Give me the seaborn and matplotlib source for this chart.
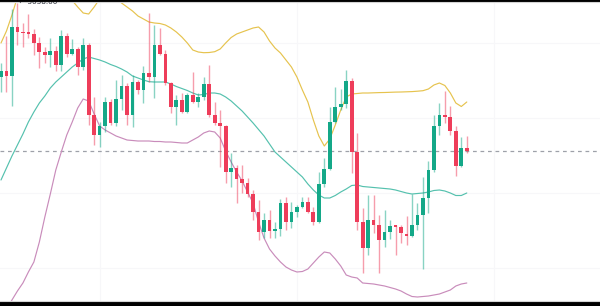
import numpy as np
import pandas as pd
import matplotlib
matplotlib.use("Agg")
import matplotlib.pyplot as plt
import seaborn as sns

# ---- data (price units) ----
opens = [3023.20, 3024.52, 3023.46, 3033.32, 3032.32, 3032.20, 3031.92, 3030.00, 3028.32, 3027.66,
         3028.52, 3025.66, 3031.52, 3027.86, 3028.80, 3025.20, 3029.72, 3015.66, 3011.66, 3013.46,
         3018.32, 3014.00, 3018.92, 3021.46, 3015.66, 3022.32, 3020.66, 3024.00, 3023.20, 3029.66,
         3027.86, 3022.00, 3017.20, 3018.66, 3016.32, 3019.66, 3018.32, 3019.32, 3021.86, 3015.66,
         3014.00, 3013.46, 3004.32, 3005.00, 3002.86, 3002.12, 2999.86, 2996.32, 2992.32, 2994.66,
         2992.52, 2992.80, 2998.00, 2994.32, 2996.32, 2997.32, 2998.32, 2996.20, 2994.32, 3001.86,
         3004.80, 3014.32, 3017.20, 3017.80, 3022.52, 3008.32, 2994.32, 2989.00, 2994.66, 2993.66,
         2990.66, 2992.20, 2993.46, 2993.26, 2991.86, 2991.46, 2993.66, 2995.66, 2999.00, 3004.66,
         3013.46, 3015.66, 3015.20, 3012.52, 3005.46, 3009.00]
highs = [3026.06, 3031.46, 3036.80, 3038.00, 3034.12, 3035.86, 3032.80, 3031.32, 3029.32, 3031.12,
         3029.46, 3032.66, 3032.00, 3030.80, 3029.32, 3031.00, 3030.12, 3019.32, 3014.32, 3019.20,
         3018.80, 3022.66, 3023.66, 3022.12, 3023.66, 3022.66, 3025.46, 3036.00, 3033.66, 3033.00,
         3028.66, 3022.32, 3019.66, 3020.00, 3020.00, 3024.32, 3020.00, 3023.32, 3025.66, 3018.32,
         3016.66, 3013.66, 3008.00, 3005.66, 3005.66, 3003.06, 3000.66, 2998.66, 2996.00, 2996.66,
         2994.32, 2998.80, 2999.32, 2998.32, 2997.66, 2999.32, 2999.32, 2997.32, 3004.32, 3007.00,
         3017.32, 3021.20, 3020.80, 3024.66, 3023.00, 3012.00, 2997.06, 2999.66, 2999.66, 2995.66,
         2996.66, 2994.66, 2993.66, 2993.66, 2995.46, 2999.86, 2998.00, 3003.32, 3006.52, 3015.66,
         3018.12, 3020.52, 3017.46, 3013.46, 3011.32, 3011.46]
lows = [3020.26, 3020.26, 3017.46, 3029.66, 3029.32, 3031.00, 3027.66, 3025.00, 3026.00, 3025.32,
        3024.52, 3024.46, 3027.32, 3027.66, 3023.66, 3024.66, 3013.66, 3009.66, 3009.32, 3012.32,
        3013.66, 3013.46, 3016.66, 3013.66, 3013.32, 3019.86, 3018.00, 3022.32, 3019.00, 3027.66,
        3021.66, 3016.00, 3013.66, 3016.00, 3016.00, 3018.00, 3017.32, 3018.66, 3015.32, 3013.66,
        3005.32, 3002.00, 3001.32, 2998.00, 3000.00, 2999.32, 2994.66, 2990.66, 2991.00, 2991.00,
        2991.00, 2991.46, 2992.66, 2993.00, 2995.32, 2997.00, 2996.00, 2993.66, 2994.00, 3001.32,
        3004.66, 3014.00, 3016.66, 3017.00, 3004.00, 2992.66, 2984.00, 2987.66, 2992.00, 2984.00,
        2989.32, 2990.80, 2987.66, 2990.00, 2989.66, 2991.32, 2992.66, 2984.80, 2996.00, 3004.26,
        3011.66, 3014.00, 3011.66, 3003.46, 3005.32, 3008.12]
closes = [3024.52, 3023.46, 3033.32, 3032.32, 3032.00, 3031.92, 3030.00, 3028.32, 3027.66, 3028.52,
          3025.66, 3031.52, 3027.86, 3028.80, 3025.20, 3029.72, 3015.66, 3011.66, 3013.46, 3018.32,
          3014.00, 3018.92, 3021.46, 3015.66, 3022.32, 3020.66, 3024.00, 3023.20, 3029.66, 3027.86,
          3022.00, 3017.20, 3018.66, 3016.32, 3019.66, 3018.32, 3019.32, 3021.86, 3015.66, 3014.00,
          3013.46, 3004.32, 3005.00, 3002.86, 3002.12, 2999.86, 2996.32, 2992.32, 2994.66, 2992.52,
          2992.80, 2998.00, 2994.32, 2996.32, 2997.32, 2998.32, 2996.20, 2994.32, 3001.86, 3004.80,
          3014.32, 3017.32, 3017.80, 3022.52, 3008.32, 2994.32, 2989.00, 2994.66, 2993.66, 2990.66,
          2992.20, 2993.46, 2993.26, 2992.00, 2991.46, 2993.66, 2995.66, 2999.00, 3004.66, 3013.46,
          3015.66, 3015.20, 3012.52, 3005.46, 3009.00, 3008.52]
bb_upper = [3030.06, 3032.46, 3035.66, 3039.26, 3040.26, 3041.06, 3041.46, 3041.66, 3041.46, 3041.06,
            3040.66, 3040.06, 3039.46, 3038.56, 3037.26, 3036.06, 3035.86, 3037.26, 3038.86, 3039.66,
            3039.86, 3039.26, 3038.06, 3037.26, 3036.46, 3035.46, 3034.86, 3034.26, 3034.06, 3033.96,
            3033.66, 3033.06, 3032.26, 3031.26, 3030.06, 3028.66, 3028.26, 3028.12, 3028.16, 3028.32,
            3028.86, 3030.06, 3031.16, 3031.86, 3032.26, 3032.66, 3033.06, 3033.26, 3032.26, 3030.46,
            3029.06, 3028.06, 3026.66, 3025.26, 3023.26, 3020.66, 3018.26, 3014.66, 3011.46, 3009.46,
            3010.86, 3013.66, 3016.66, 3019.26, 3019.86, 3019.96, 3020.06, 3020.06, 3020.10, 3020.14,
            3020.16, 3020.20, 3020.24, 3020.26, 3020.30, 3020.34, 3020.42, 3020.52, 3020.86, 3021.66,
            3022.06, 3021.56, 3020.06, 3018.06, 3017.36, 3018.26]
bb_middle = [3002.66, 3005.06, 3007.46, 3009.66, 3011.86, 3014.26, 3016.26, 3018.06, 3019.46, 3021.06,
             3022.26, 3023.26, 3024.26, 3025.26, 3026.06, 3026.86, 3027.26, 3026.96, 3026.66, 3026.26,
             3025.76, 3025.36, 3024.86, 3024.26, 3023.46, 3023.06, 3022.66, 3022.32, 3022.26, 3022.26,
             3022.26, 3021.86, 3021.36, 3020.96, 3020.56, 3020.06, 3019.66, 3019.76, 3020.06, 3020.06,
             3019.86, 3019.26, 3018.46, 3017.46, 3016.46, 3015.26, 3014.06, 3012.76, 3011.46, 3009.86,
             3008.26, 3007.26, 3006.26, 3005.26, 3004.26, 3003.26, 3001.86, 3000.66, 2999.66, 2999.06,
             2999.06, 2999.56, 3000.26, 3000.86, 3001.56, 3001.66, 3001.36, 3001.26, 3001.16, 3001.06,
             3000.96, 3000.86, 3000.66, 3000.36, 3000.06, 2999.86, 2999.96, 3000.06, 3000.26, 3000.56,
             3000.66, 3000.46, 3000.06, 2999.56, 2999.56, 3000.06]
bb_lower = [2974.26, 2976.66, 2978.66, 2980.46, 2982.06, 2984.26, 2986.26, 2990.26, 2995.26, 2999.86,
            3004.66, 3008.26, 3011.66, 3014.26, 3017.06, 3018.86, 3018.46, 3015.86, 3013.46, 3012.66,
            3012.06, 3011.46, 3011.06, 3010.66, 3010.56, 3010.46, 3010.46, 3010.46, 3010.36, 3010.36,
            3010.26, 3010.26, 3010.16, 3010.06, 3010.06, 3010.66, 3011.26, 3012.06, 3012.46, 3012.26,
            3011.06, 3008.46, 3006.26, 3004.26, 3002.46, 3000.26, 2998.06, 2994.26, 2991.06, 2988.86,
            2987.46, 2986.26, 2985.26, 2984.66, 2984.26, 2984.36, 2984.86, 2986.06, 2987.26, 2988.26,
            2988.06, 2986.86, 2985.46, 2983.66, 2983.26, 2983.06, 2982.06, 2981.96, 2981.86, 2981.66,
            2981.46, 2981.16, 2980.86, 2980.46, 2979.86, 2979.36, 2979.26, 2979.36, 2979.46, 2979.66,
            2979.86, 2980.26, 2980.66, 2981.46, 2981.86, 2982.06]
high_label = "\u2190 3038.00"
price_grid = [2985, 3000, 3015, 3030]
time_grid = [18, 54, 90]

# ---- styling ----
sns.set_theme(style="white")
plt.rcParams['font.family'] = ['DejaVu Sans']

GREEN = '#14a888'
RED = '#ee3d5a'

o = np.array(opens); h = np.array(highs); l = np.array(lows); c = np.array(closes)
idx = np.arange(len(c))
up = c >= o

df = pd.DataFrame({'i': idx, 'upper': bb_upper, 'middle': bb_middle, 'lower': bb_lower})

fig = plt.figure(figsize=(6.0, 3.06), dpi=100, facecolor='black')
ax = fig.add_axes([0, 5 / 306, 1, 299 / 306])
ax.set_facecolor('white')

# very faint grid
for g in price_grid:
    ax.axhline(g, color='#f7f7f9', lw=0.8, zorder=0)
for g in time_grid:
    ax.axvline(g, color='#f7f7f9', lw=0.8, zorder=0)

# bands
sns.lineplot(data=df, x='i', y='upper', color='#e6c34e', lw=0.85, ax=ax, estimator=None, legend=False, zorder=2)
sns.lineplot(data=df, x='i', y='middle', color='#55c1ae', lw=0.85, ax=ax, estimator=None, legend=False, zorder=2)
sns.lineplot(data=df, x='i', y='lower', color='#c98cbb', lw=0.85, ax=ax, estimator=None, legend=False, zorder=2)

# wicks
ax.vlines(idx[up], l[up], h[up], color=GREEN, alpha=0.5, lw=1.0, zorder=3)
ax.vlines(idx[~up], l[~up], h[~up], color=RED, alpha=0.5, lw=1.0, zorder=3)

# bodies
body_bottom = np.minimum(o, c)
body_height = np.maximum(np.abs(c - o), 0.3)
ax.bar(idx[up], body_height[up], bottom=body_bottom[up], width=0.68, color=GREEN, linewidth=0, zorder=4)
ax.bar(idx[~up], body_height[~up], bottom=body_bottom[~up], width=0.68, color=RED, linewidth=0, zorder=4)

# last price line
ax.axhline(closes[-1], color='#9ea1a9', lw=0.9, ls=(0, (3, 3)), zorder=1)

# high marker label (partially hidden under the top edge)
ax.text(19 / 600, 1.0, high_label, transform=ax.transAxes, fontsize=5.2,
        color='#2a2e39', ha='left', va='center', clip_on=True, zorder=6)

ax.set_xlim(-0.182, 109.31)
ax.set_ylim(2978.46, 3038.26)
ax.set_xticks([]); ax.set_yticks([])
ax.set_xlabel(''); ax.set_ylabel('')
for s in ['left', 'right']:
    ax.spines[s].set_visible(False)
for s in ['top', 'bottom']:
    ax.spines[s].set_color('#d4d4d4')
    ax.spines[s].set_linewidth(0.8)

fig.savefig('out.png', dpi=100, facecolor='black')
